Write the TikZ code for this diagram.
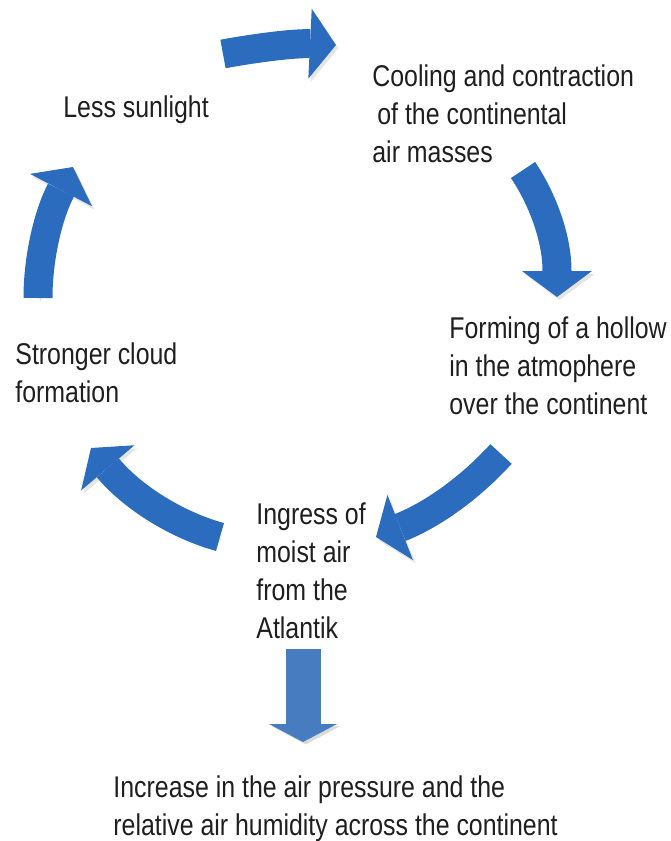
\documentclass[tikz,border=0pt]{standalone}
\usepackage{fontspec}
\setmainfont[FakeStretch=0.83]{Liberation Sans}
\usepackage{tikz}
\usetikzlibrary{arrows.meta}

\definecolor{cycleblue}{RGB}{44,108,190}
\definecolor{downblue}{RGB}{72,124,192}

\begin{document}
\begin{tikzpicture}[x=0.5pt, y=-0.5pt,
    phase/.style={anchor=base west, align=left, inner sep=0pt, text=black!88,
        font=\fontsize{15}{19}\selectfont},
    cyclearrow/.style={draw=cycleblue, line width=14.5pt,
        -{Triangle[width=35pt, length=13pt, line width=0pt]},
        preaction={draw=black!10, transform canvas={shift={(1.2pt,-1.6pt)}}}},
    downarrow/.style={draw=downblue, line width=17.5pt,
        -{Triangle[width=34pt, length=9pt, line width=0pt]},
        preaction={draw=black!15, transform canvas={shift={(1.4pt,-1.2pt)}}}}
        ]

    \path [use as bounding box] (0,0) rectangle (670,841);

    % texts of the cycle (placed at the baseline of the last line)
    \node [phase] (sunlight) at (63,117) {Less sunlight};
    \node [phase] (cooling) at (372,162)
        {Cooling and contraction\\\hspace*{2.5pt}of the continental\\air masses};
    \node [phase] (hollow) at (449,414)
        {Forming of a hollow\\in the atmophere\\over the continent};
    \node [phase] (ingress) at (256,638)
        {Ingress of\\moist air\\from the\\Atlantik};
    \node [phase] (clouds) at (15,402) {Stronger cloud\\formation};
    \node [phase] (pressure) at (113,835)
        {Increase in the air pressure and the\\relative air humidity across the continent};

    % arrow ends (tail, tip)
    \coordinate (A1) at (223,54);
    \coordinate (A2) at (336,45);
    \coordinate (B1) at (523,170);
    \coordinate (B2) at (557,297);
    \coordinate (C1) at (501,454);
    \coordinate (C2) at (376,537);
    \coordinate (D1) at (220,537);
    \coordinate (D2) at (91,448);
    \coordinate (E1) at (38,298);
    \coordinate (E2) at (73,167);
    \coordinate (F1) at (303,649);
    \coordinate (F2) at (303,742);

    \draw [cyclearrow] (A1) .. controls (255,48) and (295,43) .. (A2);
    \draw [cyclearrow] (B1) .. controls (540,195) and (557,235) .. (B2);
    \draw [cyclearrow] (C1) .. controls (470,488) and (432,515) .. (C2);
    \draw [cyclearrow] (D1) .. controls (180,526) and (135,500) .. (D2);
    \draw [cyclearrow] (E1) .. controls (38,258) and (48,215) .. (E2);

    \draw [downarrow] (F1) -- (F2);

\end{tikzpicture}
\end{document}
